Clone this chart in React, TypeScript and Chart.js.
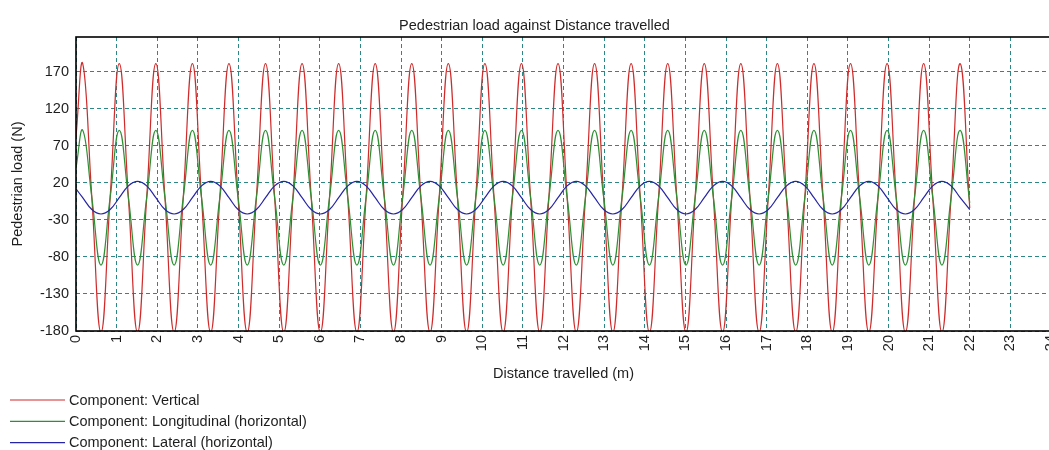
import { useEffect, useRef } from "react";
import { Chart, registerables } from "chart.js";

Chart.register(...registerables);

const distance = [
  0, 0.165, 0.39, 0.615, 0.84, 1.065, 1.29, 1.515, 1.74, 1.965, 2.19, 2.415, 2.64,
  2.865, 3.09, 3.315, 3.54, 3.765, 3.99, 4.215, 4.44, 4.665, 4.89, 5.115, 5.34,
  5.565, 5.79, 6.015, 6.24, 6.465, 6.69, 6.915, 7.14, 7.365, 7.59, 7.815, 8.04,
  8.265, 8.49, 8.715, 8.94, 9.165, 9.39, 9.615, 9.84, 10.065, 10.29, 10.515, 10.74,
  10.965, 11.19, 11.415, 11.64, 11.865, 12.09, 12.315, 12.54, 12.765, 12.99, 13.215,
  13.44, 13.665, 13.89, 14.115, 14.34, 14.565, 14.79, 15.015, 15.24, 15.465, 15.69,
  15.915, 16.14, 16.365, 16.59, 16.815, 17.04, 17.265, 17.49, 17.715, 17.94, 18.165,
  18.39, 18.615, 18.84, 19.065, 19.29, 19.515, 19.74, 19.965, 20.19, 20.415, 20.64,
  20.865, 21.09, 21.315, 21.54, 21.765, 22,
];

// Component: Vertical (N)
const verticalLoad = [
  82,
  181, 0, -182, 0, 181, 0, -182, 0,
  181, 0, -182, 0, 181, 0, -182, 0,
  181, 0, -182, 0, 181, 0, -182, 0,
  181, 0, -182, 0, 181, 0, -182, 0,
  181, 0, -182, 0, 181, 0, -182, 0,
  181, 0, -182, 0, 181, 0, -182, 0,
  181, 0, -182, 0, 181, 0, -182, 0,
  181, 0, -182, 0, 181, 0, -182, 0,
  181, 0, -182, 0, 181, 0, -182, 0,
  181, 0, -182, 0, 181, 0, -182, 0,
  181, 0, -182, 0, 181, 0, -182, 0,
  181, 0, -182, 0, 181, 0, -182, 0,
  181, -14,
];

// Component: Longitudinal (horizontal) (N)
const longitudinalLoad = [
  40,
  91, 0, -91, 0, 91, 0, -91, 0,
  91, 0, -91, 0, 91, 0, -91, 0,
  91, 0, -91, 0, 91, 0, -91, 0,
  91, 0, -91, 0, 91, 0, -91, 0,
  91, 0, -91, 0, 91, 0, -91, 0,
  91, 0, -91, 0, 91, 0, -91, 0,
  91, 0, -91, 0, 91, 0, -91, 0,
  91, 0, -91, 0, 91, 0, -91, 0,
  91, 0, -91, 0, 91, 0, -91, 0,
  91, 0, -91, 0, 91, 0, -91, 0,
  91, 0, -91, 0, 91, 0, -91, 0,
  91, 0, -91, 0, 91, 0, -91, 0,
  91, -7,
];

// Component: Lateral (horizontal) (N)
const lateralLoad = [
  12,
  0, -16, -22, -16, 0, 16, 22, 16,
  0, -16, -22, -16, 0, 16, 22, 16,
  0, -16, -22, -16, 0, 16, 22, 16,
  0, -16, -22, -16, 0, 16, 22, 16,
  0, -16, -22, -16, 0, 16, 22, 16,
  0, -16, -22, -16, 0, 16, 22, 16,
  0, -16, -22, -16, 0, 16, 22, 16,
  0, -16, -22, -16, 0, 16, 22, 16,
  0, -16, -22, -16, 0, 16, 22, 16,
  0, -16, -22, -16, 0, 16, 22, 16,
  0, -16, -22, -16, 0, 16, 22, 16,
  0, -16, -22, -16, 0, 16, 22, 16,
  0, -16,
];

const xTicks = [0, 1, 2, 3, 4, 5, 6, 7, 8, 9, 10, 11, 12, 13, 14, 15, 16, 17, 18, 19, 20, 21, 22, 23, 24];
const yTicks = [-180, -130, -80, -30, 20, 70, 120, 170];
const seriesNames = [
  "Component: Vertical",
  "Component: Longitudinal (horizontal)",
  "Component: Lateral (horizontal)",
];
const seriesColors = ["#cf2b2b", "#2f8f35", "#2525a5"];
const chartTitle = "Pedestrian load against Distance travelled";
const xTitle = "Distance travelled (m)";
const yTitle = "Pedestrian load (N)";

const FONT = '"Liberation Sans", Arial, sans-serif';
const FS = 14.5;
const GRID = "#2e8787";

const decorPlugin = {
  id: "decor",
  afterDatasetsDraw(chart: any) {
    const { ctx, chartArea: a } = chart;
    ctx.save();
    ctx.strokeStyle = "#000";
    ctx.lineWidth = 1.6;
    ctx.strokeRect(a.left, a.top, a.right - a.left, a.bottom - a.top);
    ctx.restore();
  },
  afterDraw(chart: any) {
    const ctx = chart.ctx;
    ctx.save();
    ctx.font = `${FS}px ${FONT}`;
    ctx.fillStyle = "#1e1e1e";
    ctx.textAlign = "center";
    ctx.textBaseline = "alphabetic";
    ctx.fillText(chartTitle, 534.5, 29.5);
    chart.data.datasets.forEach((ds: any, i: number) => {
      const y = 400 + i * 21.3;
      ctx.strokeStyle = ds.borderColor;
      ctx.lineWidth = 1.2;
      ctx.beginPath();
      ctx.moveTo(10, y);
      ctx.lineTo(65, y);
      ctx.stroke();
      ctx.textAlign = "left";
      ctx.textBaseline = "middle";
      ctx.fillText(ds.label, 69, y + 0.5);
    });
    ctx.restore();
  },
};

export default function App() {
  const ref = useRef<HTMLCanvasElement | null>(null);

  useEffect(() => {
    if (!ref.current) return;
    const series = [verticalLoad, longitudinalLoad, lateralLoad];
    const chart = new Chart(ref.current, {
      type: "line",
      data: {
        datasets: series.map((vals, i) => ({
          label: seriesNames[i],
          data: vals.map((y, j) => ({ x: distance[j], y })),
          borderColor: seriesColors[i],
          backgroundColor: seriesColors[i],
          borderWidth: 1.2,
          pointRadius: 0,
          tension: i === 2 ? 0.4 : 0.45,
          fill: false,
          order: 3 - i,
        })),
      },
      options: {
        responsive: false,
        animation: false,
        events: [],
        layout: { padding: { top: 37, right: 9, bottom: 67, left: 0 } },
        plugins: {
          legend: { display: false },
          title: { display: false },
          tooltip: { enabled: false },
        },
        scales: {
          x: {
            type: "linear",
            min: 0,
            max: 24,
            afterBuildTicks: (s: any) => {
              s.ticks = xTicks.map((v) => ({ value: v }));
            },
            afterFit: (s: any) => {
              s.height = 52;
              s.paddingLeft = 0;
              s.paddingRight = 0;
            },
            ticks: {
              autoSkip: false,
              minRotation: 90,
              maxRotation: 90,
              padding: 4,
              color: "#1e1e1e",
              font: { family: FONT, size: FS },
              callback: (v: any) => String(v),
            },
            grid: { color: GRID, lineWidth: 1, drawTicks: false },
            border: { display: false, dash: [4, 3] },
            title: {
              display: true,
              text: xTitle,
              color: "#1e1e1e",
              font: { family: FONT, size: FS },
              padding: { top: 0, bottom: 0 },
            },
          },
          y: {
            type: "linear",
            min: -180,
            max: 217,
            afterBuildTicks: (s: any) => {
              s.ticks = yTicks.map((v) => ({ value: v }));
            },
            afterFit: (s: any) => {
              s.width = 76;
              s.paddingTop = 0;
              s.paddingBottom = 0;
            },
            ticks: {
              padding: 7,
              color: "#1e1e1e",
              font: { family: FONT, size: FS },
              callback: (v: any) => String(v),
            },
            grid: { color: GRID, lineWidth: 1, drawTicks: false },
            border: { display: false, dash: [4, 3] },
            title: {
              display: true,
              text: yTitle,
              color: "#1e1e1e",
              font: { family: FONT, size: FS },
              padding: { top: 9, bottom: 0 },
            },
          },
        },
      },
      plugins: [decorPlugin],
    } as any);
    return () => chart.destroy();
  }, []);

  return (
    <div
      style={{
        position: "fixed",
        left: 0,
        top: 0,
        width: 1049,
        height: 450,
        overflow: "hidden",
        background: "#fff",
      }}
    >
      <canvas ref={ref} width={1060} height={450} style={{ display: "block", width: 1060, height: 450 }} />
    </div>
  );
}
